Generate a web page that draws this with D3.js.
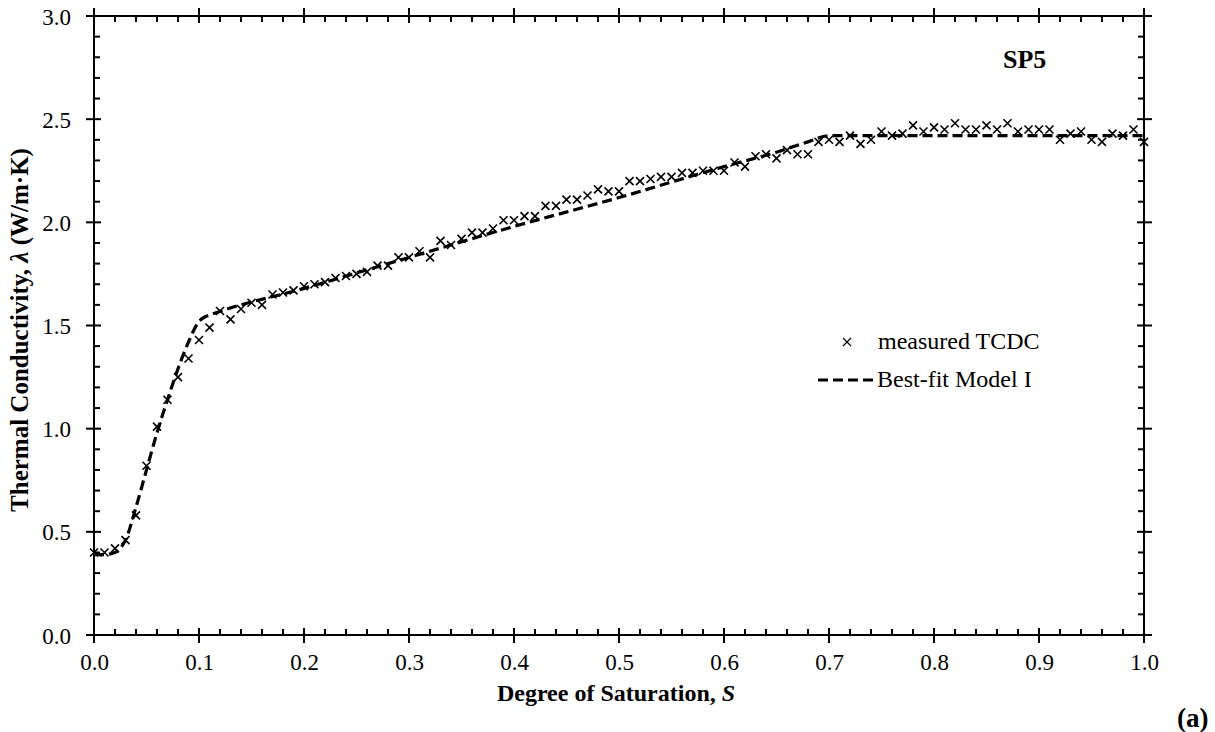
<!DOCTYPE html>
<html>
<head>
<meta charset="utf-8">
<script src="https://cdn.jsdelivr.net/npm/d3@7"></script>
<style>
  html, body { margin: 0; padding: 0; background: #fff; }
  svg text { font-family: "Liberation Serif", "Times New Roman", serif; fill: #000; }
</style>
</head>
<body>
<svg id="chart" width="1215" height="732"></svg>
<script>
// ---- data ----
const measuredS = [0.00,0.01,0.02,0.03,0.04,0.05,0.06,0.07,0.08,0.09,
  0.10,0.11,0.12,0.13,0.14,0.15,0.16,0.17,0.18,0.19,
  0.20,0.21,0.22,0.23,0.24,0.25,0.26,0.27,0.28,0.29,
  0.30,0.31,0.32,0.33,0.34,0.35,0.36,0.37,0.38,0.39,
  0.40,0.41,0.42,0.43,0.44,0.45,0.46,0.47,0.48,0.49,
  0.50,0.51,0.52,0.53,0.54,0.55,0.56,0.57,0.58,0.59,
  0.60,0.61,0.62,0.63,0.64,0.65,0.66,0.67,0.68,0.69,
  0.70,0.71,0.72,0.73,0.74,0.75,0.76,0.77,0.78,0.79,
  0.80,0.81,0.82,0.83,0.84,0.85,0.86,0.87,0.88,0.89,
  0.90,0.91,0.92,0.93,0.94,0.95,0.96,0.97,0.98,0.99,1.00];
const measuredLambda = [0.40,0.40,0.42,0.46,0.58,0.82,1.01,1.14,1.25,1.34,
  1.43,1.49,1.57,1.53,1.58,1.61,1.60,1.65,1.66,1.67,
  1.69,1.70,1.71,1.73,1.74,1.75,1.76,1.79,1.79,1.83,
  1.83,1.86,1.83,1.91,1.89,1.92,1.95,1.95,1.97,2.01,
  2.01,2.03,2.03,2.08,2.08,2.11,2.11,2.13,2.16,2.15,
  2.15,2.20,2.20,2.21,2.22,2.22,2.24,2.24,2.25,2.25,
  2.25,2.29,2.27,2.32,2.33,2.31,2.35,2.33,2.33,2.39,
  2.40,2.39,2.42,2.38,2.40,2.44,2.42,2.43,2.47,2.44,
  2.46,2.45,2.48,2.45,2.45,2.47,2.45,2.48,2.44,2.45,
  2.45,2.45,2.40,2.43,2.44,2.40,2.39,2.43,2.42,2.45,2.39];

const modelS = [0.00,0.01,0.02,0.025,0.03,0.04,0.05,0.06,0.07,0.08,0.09,0.10,0.105,0.11,0.20,0.30,0.40,0.50,0.60,0.65,0.68,0.70,0.75,0.80,0.90,1.00];
const modelLambda = [0.39,0.39,0.40,0.42,0.46,0.62,0.80,0.98,1.14,1.29,1.42,1.52,1.54,1.55,1.68,1.83,1.98,2.12,2.27,2.34,2.39,2.42,2.42,2.42,2.42,2.42];

const xTicks = [0.0,0.1,0.2,0.3,0.4,0.5,0.6,0.7,0.8,0.9,1.0];
const yTicks = [0.0,0.5,1.0,1.5,2.0,2.5,3.0];
const xMinor = [0.02,0.04,0.06,0.08,0.12,0.14,0.16,0.18,0.22,0.24,0.26,0.28,0.32,0.34,0.36,0.38,0.42,0.44,0.46,0.48,0.52,0.54,0.56,0.58,0.62,0.64,0.66,0.68,0.72,0.74,0.76,0.78,0.82,0.84,0.86,0.88,0.92,0.94,0.96,0.98];
const yMinor = [0.1,0.2,0.3,0.4,0.6,0.7,0.8,0.9,1.1,1.2,1.3,1.4,1.6,1.7,1.8,1.9,2.1,2.2,2.3,2.4,2.6,2.7,2.8,2.9];

const legendLabels = ["measured TCDC", "Best-fit Model I"];

// ---- layout ----
const svg = d3.select("#chart");
const L = 94, R = 1144, T = 16, B = 635;
const x = d3.scaleLinear().domain([0, 1]).range([L, R]);
const y = d3.scaleLinear().domain([0, 3]).range([B, T]);

const axStroke = 2;
const majOut = 8, majIn = 7, minIn = 6;

// frame
svg.append("rect").attr("x", L).attr("y", T).attr("width", R - L).attr("height", B - T)
  .attr("fill", "none").attr("stroke", "#000").attr("stroke-width", axStroke);

const g = svg.append("g");
function vTick(xv, y0, y1) { g.append("line").attr("x1", x(xv)).attr("x2", x(xv)).attr("y1", y0).attr("y2", y1).attr("stroke", "#000").attr("stroke-width", axStroke); }
function hTick(yv, x0, x1) { g.append("line").attr("y1", y(yv)).attr("y2", y(yv)).attr("x1", x0).attr("x2", x1).attr("stroke", "#000").attr("stroke-width", axStroke); }
xTicks.forEach(v => { vTick(v, B + majOut, B - majIn); vTick(v, T - majOut, T + majIn); });
xMinor.forEach(v => { vTick(v, B, B - minIn); vTick(v, T, T + minIn); });
yTicks.forEach(v => { hTick(v, L - majOut, L + majIn); hTick(v, R + majOut, R - majIn); });
yMinor.forEach(v => { hTick(v, L, L + minIn); hTick(v, R, R - minIn); });

// tick labels
const xAxis = d3.axisBottom(x).tickValues(xTicks).tickFormat(d3.format(".1f")).tickSize(0).tickPadding(0);
svg.append("g").attr("transform", `translate(0,${B + 35})`).call(xAxis)
  .call(a => a.select(".domain").remove())
  .selectAll("text").attr("font-size", 23).attr("font-family", "Liberation Serif").attr("dy", 0);
const yAxis = d3.axisLeft(y).tickValues(yTicks).tickFormat(d3.format(".1f")).tickSize(0).tickPadding(0);
svg.append("g").attr("transform", `translate(${L - 23},0)`).call(yAxis)
  .call(a => a.select(".domain").remove())
  .selectAll("text").attr("font-size", 23).attr("font-family", "Liberation Serif").attr("dy", "0.35em");

// model line
const line = d3.line().x(d => x(d[0])).y(d => y(d[1])).curve(d3.curveMonotoneX);
svg.append("path").datum(modelS.map((s, i) => [s, modelLambda[i]]))
  .attr("d", line).attr("fill", "none").attr("stroke", "#000")
  .attr("stroke-width", 3.2).attr("stroke-dasharray", "10,5");

// markers
const ms = 4;
const cross = s => `M${-s},${-s}L${s},${s}M${-s},${s}L${s},${-s}`;
svg.append("g").selectAll("path").data(measuredS.map((s, i) => [s, measuredLambda[i]]))
  .join("path").attr("transform", d => `translate(${x(d[0])},${y(d[1])})`)
  .attr("d", cross(ms)).attr("stroke", "#000").attr("stroke-width", 1.6).attr("fill", "none");

// legend
svg.append("path").attr("transform", "translate(847,342)").attr("d", cross(ms))
  .attr("stroke", "#000").attr("stroke-width", 1.2).attr("fill", "none");
svg.append("text").attr("x", 878).attr("y", 349).attr("font-size", 24).text(legendLabels[0]);
svg.append("line").attr("x1", 818).attr("x2", 873).attr("y1", 380).attr("y2", 380)
  .attr("stroke", "#000").attr("stroke-width", 3.2).attr("stroke-dasharray", "10,5");
svg.append("text").attr("x", 877).attr("y", 387).attr("font-size", 24).text(legendLabels[1]);

// annotations
svg.append("text").attr("x", 1003).attr("y", 68).attr("font-size", 26).attr("font-weight", "bold").text("SP5");
svg.append("text").attr("x", 1177).attr("y", 727).attr("font-size", 27).attr("font-weight", "bold").text("(a)");

// axis titles
const xt = svg.append("text").attr("x", 616).attr("y", 701).attr("text-anchor", "middle")
  .attr("font-size", 24).attr("font-weight", "bold");
xt.append("tspan").text("Degree of Saturation, ");
xt.append("tspan").attr("font-style", "italic").text("S");

const yt = svg.append("text").attr("transform", `translate(28,330) rotate(-90)`)
  .attr("text-anchor", "middle").attr("font-size", 25).attr("font-weight", "bold");
yt.append("tspan").text("Thermal Conductivity, ");
yt.append("tspan").attr("font-style", "italic").text("λ");
yt.append("tspan").text(" (W/m·K)");
</script>
</body>
</html>
